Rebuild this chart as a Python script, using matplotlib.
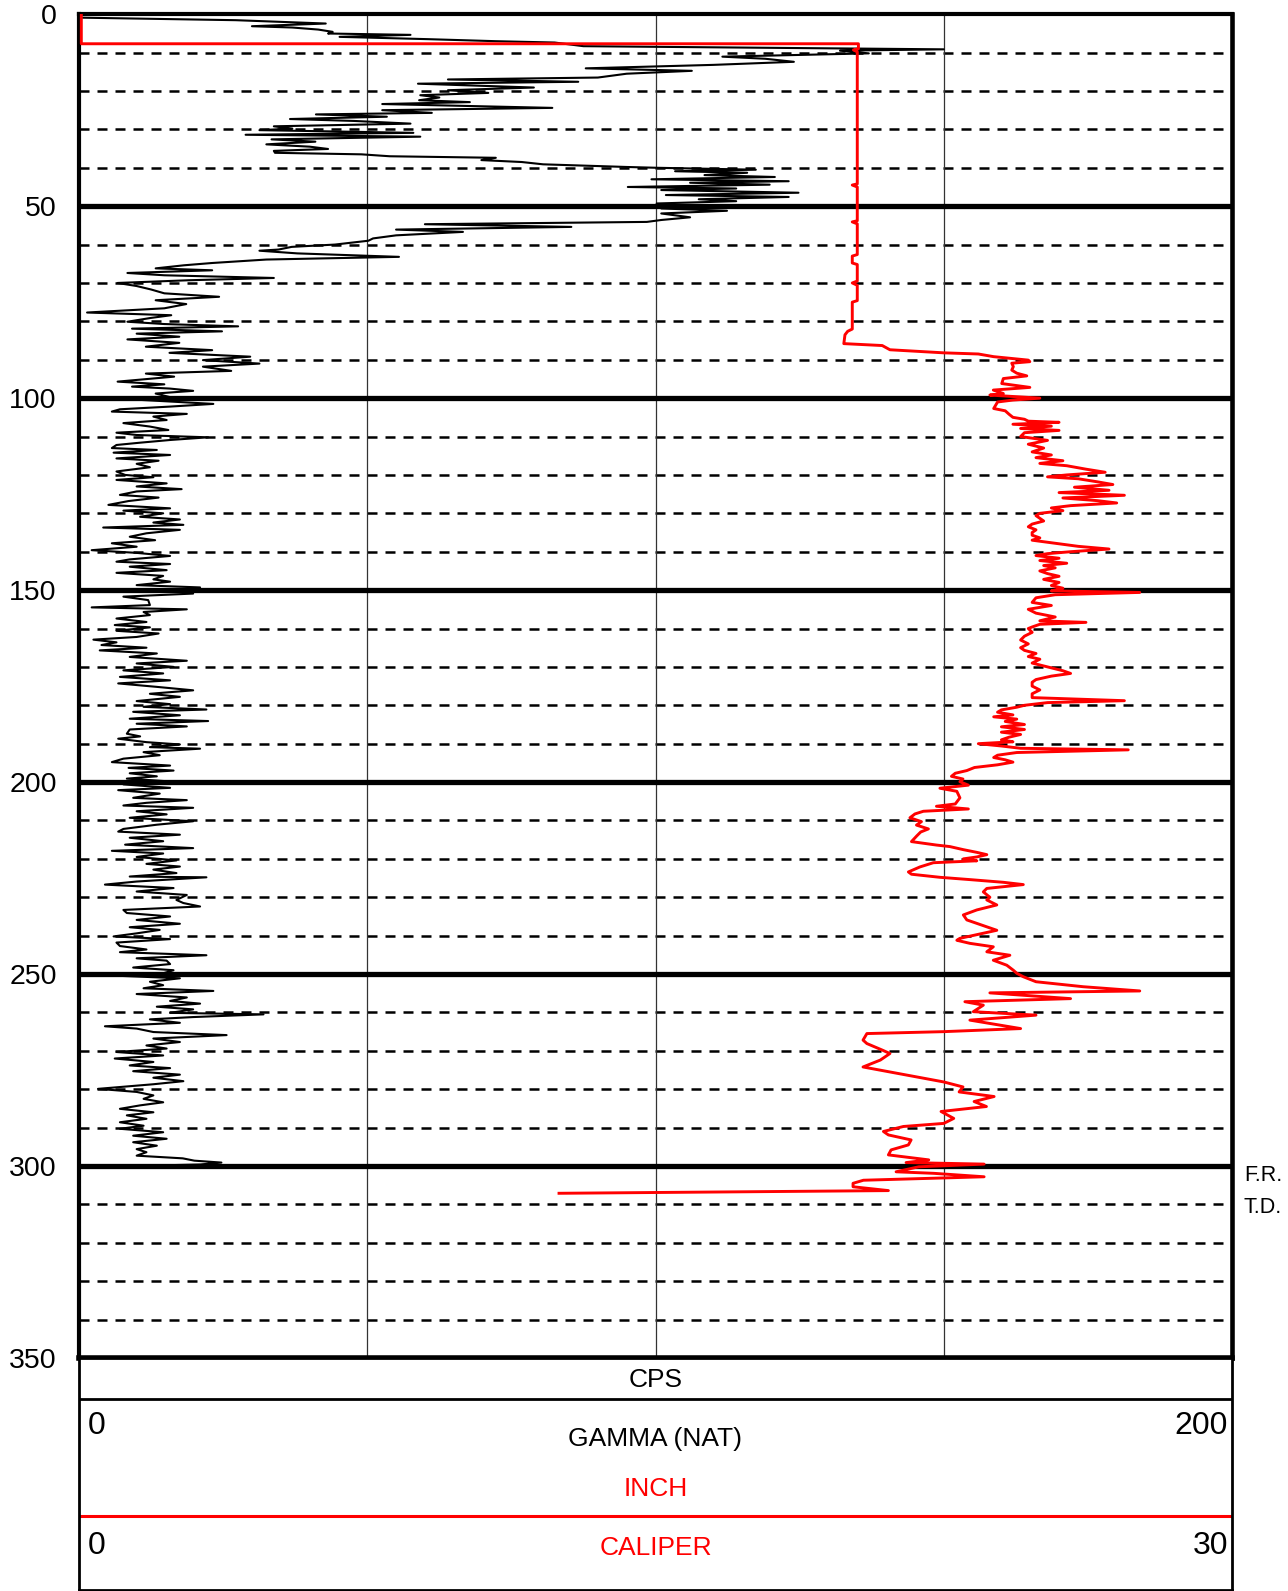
import numpy as np
import matplotlib
matplotlib.use("Agg")
import matplotlib.pyplot as plt
import matplotlib.transforms as mtrans

plt.rcParams['font.family'] = ['Liberation Sans', 'DejaVu Sans']

# gamma (nat), cps  -- depth (ft) / value pairs
gam_depth = [0.9, 1.56, 2.43, 3.13, 3.47, 4.0, 4.6, 5.03, 5.38, 5.9, 6.5, 7.03, 7.38, 8.33, 8.9, 9.15, 9.5, 10.2,
             11.06, 11.6, 12.4, 13.2, 14.1, 14.75, 15.5, 16.5, 17.0, 17.6, 18.1, 19.1, 19.8, 20.5, 21.1, 21.7, 22.4,
             22.9, 23.4, 24.4, 25.0, 25.7, 26.1, 26.7, 27.3, 27.8, 28.5, 29.2, 29.8, 30.2, 30.9, 31.4, 31.9, 32.6,
             33.2, 33.9, 34.5, 35.1, 35.6, 36.1, 36.5, 37.0, 37.4, 38.0, 38.5, 39.1, 39.8, 40.0, 40.5, 40.9, 41.3,
             41.9, 42.4, 43.0, 43.5, 43.9, 44.4, 45.0, 45.4, 45.8, 46.5, 47.1, 47.6, 48.2, 48.7, 49.3, 50.0, 50.6,
             51.2, 51.9, 52.9, 53.6, 54.1, 54.7, 55.4, 56.1, 56.7, 57.6, 58.4, 59.0, 60.0, 60.6, 61.3, 61.6, 62.3,
             63.2, 63.9, 64.8, 65.4, 66.2, 66.7, 67.4, 68.0, 68.7, 69.3, 70.0, 70.8, 71.7, 72.7, 73.6, 74.5, 75.5,
             76.6, 77.7, 78.4, 79.1, 80.1, 80.7, 81.3, 81.9, 82.6, 83.2, 84.0, 84.7, 85.6, 86.6, 87.5, 88.2, 89.2,
             90.1, 91.0, 91.8, 92.9, 93.6, 94.4, 95.7, 96.4, 97.0, 97.5, 98.1, 98.8, 99.7,
             100.4, 101.5, 102.2, 102.9, 103.5, 104.1, 104.8, 105.7, 106.5, 107.4, 108.3, 109.0, 109.6, 110.2,
             110.9, 111.6, 112.2, 113.0, 113.5, 114.2, 114.8, 115.7, 116.3, 117.1, 118.0, 119.1, 120.0, 120.6,
             121.3, 122.2, 123.0, 123.7, 124.3, 125.2, 125.9, 126.8, 127.8, 128.7, 129.3, 130.0, 130.9, 131.6,
             132.4, 133.0, 133.7, 134.3, 135.2, 136.1, 137.0, 137.8, 138.7, 139.6, 140.3, 141.1, 142.0, 142.6,
             143.2, 143.9, 144.8, 145.5, 146.3, 147.2, 147.8, 148.7, 149.3, 150.0, 150.9, 151.7, 152.6, 153.9,
             154.5, 155.0, 155.7, 156.5, 157.4, 158.3, 159.1, 159.7, 160.6, 161.3, 162.2, 162.9, 163.6, 164.3,
             165.0, 165.7, 166.5, 167.4, 168.4, 169.1, 170.0, 170.9, 171.7, 172.6, 173.5, 174.3, 175.2, 176.1,
             177.0, 177.8, 178.9, 179.7, 180.4, 181.1, 181.7, 182.6, 183.5, 184.1, 184.8, 185.5, 186.3, 187.4,
             188.1, 188.7, 189.6, 190.2, 190.9, 191.3, 192.2, 193.0, 193.9, 194.8, 195.7, 196.3, 197.0, 197.7,
             198.5, 199.1, 200.0,
             200.6, 201.5, 202.1, 203.0, 204.1, 204.7, 205.4, 206.1, 206.7, 207.6, 208.4, 209.3, 210.2, 211.1,
             212.2, 212.9, 213.7, 214.5, 215.4, 216.3, 217.2, 217.9, 218.6, 219.5, 220.4, 221.3, 222.0, 222.8,
             223.7, 224.6, 224.8, 225.9, 226.7, 227.6, 228.5, 229.4, 230.7, 231.5, 232.4, 233.3, 234.1, 235.0,
             235.9, 236.9, 237.8, 238.5, 239.4, 240.2, 240.9, 241.8, 242.7, 243.6, 244.3, 245.1, 245.9, 246.5,
             247.4, 248.3, 249.0, 249.8, 250.5, 251.1, 252.0, 252.9, 253.7, 254.4, 255.2, 256.1, 257.0, 257.7,
             258.5, 259.2, 260.1, 260.5, 261.2, 261.8, 262.7, 263.6, 264.2, 265.1, 265.9, 266.8, 267.7, 268.6,
             269.4, 270.3, 271.2, 272.0, 272.9, 273.8, 274.5, 275.3, 276.2, 277.0, 277.9, 278.7, 279.9, 280.7,
             281.6, 282.5, 283.4, 284.2, 285.1, 286.0, 286.8, 287.7, 288.6, 289.5, 290.3, 291.2, 292.1, 292.9,
             293.8, 294.7, 295.6, 296.4, 297.3, 298.0, 298.6, 299.1, 299.6, 300.3]
gam_cps = [0.3, 27.2, 42.8, 30.0, 37.0, 41.5, 44.0, 43.2, 57.5, 45.2, 60.5, 72.3, 82.5, 87.5, 131, 150, 132, 137,
           111.6, 119, 124, 110, 87.9, 106.3, 95, 90, 64, 86.6, 58.8, 78.9, 64, 71, 59.2, 62.5, 59,
           67.8, 52.6, 82.1, 52.6, 61.2, 41.1, 53.4, 36.6, 47.7, 57.5, 33.8, 37, 31.3, 58, 28.9, 59.2, 33.4,
           41, 32.5, 40, 43.2, 33.8, 34, 49, 53.9, 72.3, 69.8, 76.8, 80.5, 95.2, 100.2, 117.4, 103.4, 115.9,
           108.5, 120.7, 99.3, 123.1, 106, 119.8, 95.2, 114, 101, 124.8, 101.8, 123.1, 107.5, 114, 100.2, 105, 101,
           112.4, 101, 106, 101, 98.5, 60, 85.4, 55, 66.6, 55, 51, 50.2, 44.4, 36.9, 34.6, 31.3, 37.9,
           55.5, 32.5, 23.1, 18.2, 13.3, 23.1, 8.4, 14.8, 33.8, 18.9, 6.7, 10, 12.5, 14.8, 24.3, 13.3, 18.6,
           14.8, 1.4, 16, 12.5, 8.4, 14.8, 27.6, 9.2, 24.8, 10, 17.4, 8.4, 17.4, 11.6, 23.1, 15.7, 29.7,
           21.5, 31.3, 21.5, 26.4, 11.6, 16.5, 6.7, 14.8, 9.2, 15.7, 19.8, 13.3, 15.7,
           10.0, 23.3, 15.8, 7.1, 5.7, 18.7, 12.9, 15.2, 7.7, 12.3, 15.5, 6.5, 10.0, 22.4,
           15.8, 10.6, 6.5, 5.7, 13.5, 6.0, 15.8, 6.5, 13.8, 10.0, 12.3, 6.5, 8.0, 12.9,
           6.5, 15.2, 10.0, 17.8, 10.0, 7.1, 13.8, 8.6, 5.1, 15.8, 7.7, 14.6, 10.6, 17.5,
           12.9, 18.1, 4.2, 17.5, 11.7, 8.8, 13.2, 5.7, 10.0, 2.2, 10.0, 15.8, 8.8, 6.5,
           15.8, 8.8, 15.2, 6.5, 14.6, 12.9, 15.8, 10.0, 21.0, 18.7, 19.8, 7.7, 12.0, 12.3,
           2.2, 18.7, 11.2, 12.3, 6.5, 11.7, 6.2, 12.3, 6.5, 13.8, 10.0, 2.5, 6.5, 3.9,
           11.7, 3.6, 13.5, 8.8, 18.7, 10.0, 16.4, 7.7, 14.6, 7.1, 15.8, 6.8, 13.5, 19.8,
           12.3, 17.5, 10.0, 15.8, 11.2, 22.1, 9.4, 17.5, 8.8, 22.4, 10.0, 18.7, 8.8, 8.3,
           10.6, 6.8, 11.7, 17.5, 12.3, 21.0, 11.2, 14.0, 7.7, 5.7, 15.8, 8.6, 16.4, 8.8,
           13.5, 8.3, 17.5,
           7.7, 15.8, 6.8, 14.0, 9.4, 18.7, 11.7, 7.7, 19.8, 10.0, 15.2, 8.8, 19.8, 13.5,
           7.7, 6.8, 17.5, 8.8, 14.6, 8.0, 19.8, 5.7, 14.6, 10.0, 16.9, 11.7, 17.5, 12.9,
           16.9, 8.8, 22.1, 10.0, 4.5, 16.4, 10.0, 18.7, 16.9, 18.1, 21.0, 7.7, 8.3, 15.8,
           10.0, 17.5, 8.8, 14.0, 10.0, 6.0, 15.8, 6.5, 7.1, 11.7, 7.1, 22.1, 10.0, 15.2,
           15.8, 9.4, 16.4, 14.6, 7.7, 17.5, 12.3, 14.6, 11.2, 23.3, 10.0, 18.7, 15.8, 21.0,
           13.5, 19.8, 15.8, 32.0, 19.8, 12.3, 17.5, 4.5, 10.0, 12.9, 25.6, 12.9, 17.5, 11.7,
           15.2, 6.5, 14.6, 6.2, 12.9, 8.8, 15.8, 9.4, 17.5, 12.9, 18.1, 12.9, 3.3, 10.0,
           12.9, 11.2, 14.6, 10.6, 7.1, 12.9, 8.3, 11.7, 7.1, 11.2, 7.1, 14.6, 9.4, 15.2,
           9.4, 13.5, 10.0, 11.7, 10.0, 18.0, 20.0, 24.7, 21.0, 0.0]

# caliper, inch
cal_depth = [0, 7.7, 7.7, 9.0, 9.3, 9.8, 44.2, 44.5, 45.0, 53.8, 54.1, 54.6, 62.6, 63.0, 64.8, 65.2, 69.5, 70.0,
             70.6, 74.6, 75.0, 82.0, 82.6, 83.5, 85.8, 86.3, 87.4, 88.2, 88.5, 89.2, 90.1,
             90.5, 90.9, 91.8, 92.7, 93.5, 94.2, 94.9, 96.2, 97.2, 97.9, 98.8, 99.2,
             100.0, 100.5, 101.0, 102.7, 103.3, 104.2, 105.0, 105.5, 106.0, 106.3, 106.8, 107.3, 107.9, 108.4,
             109.0, 110.0, 111.0, 112.0, 113.0, 114.0, 114.8, 115.5, 116.3, 117.0, 117.6, 118.5, 119.3, 120.0,
             120.5, 121.0, 121.8, 122.5, 123.2, 124.0, 124.6, 125.3, 126.0, 126.7, 127.3, 128.0, 128.6, 129.3,
             130.0, 130.6, 131.3, 132.0, 132.8, 133.5, 134.3, 135.0, 135.7, 136.4, 137.0, 137.8, 138.6, 139.3,
             140.0, 140.5, 141.0, 141.7, 142.3, 143.0, 143.6, 144.2, 145.0, 145.7, 146.4, 147.2, 148.0, 148.8,
             149.5, 150.2, 150.6, 151.2, 152.0, 153.2, 154.0, 155.0, 156.0, 157.0, 158.0, 158.4, 158.9, 159.6,
             160.0, 161.0, 162.0, 163.0, 164.0, 165.0, 165.7, 166.5, 167.3, 168.0, 169.0, 170.0, 171.0, 171.7,
             172.4, 173.3, 174.0, 175.0, 176.0, 177.0, 178.0, 178.8, 179.3, 180.0, 180.5, 181.2, 181.8, 182.5,
             183.0, 183.6, 184.2, 185.0, 185.6, 186.3, 187.0, 187.6, 188.3, 189.0, 189.5, 190.0, 190.6, 191.2,
             191.6, 192.3, 193.0, 193.6, 194.2, 194.8, 195.5, 196.2, 197.0, 197.7, 198.5, 199.2,
             199.9, 200.8, 201.6, 202.4, 204.1, 205.7, 206.3, 207.0, 207.6, 208.3, 209.3, 210.3, 211.2, 212.2,
             213.0, 214.0, 215.5, 216.4, 216.8, 217.6, 218.3, 218.9, 219.5, 220.0, 220.5, 221.0, 222.1, 223.4,
             224.0, 224.8, 225.4, 226.1, 226.7, 227.7, 228.6, 230.0, 230.7, 232.0, 233.3, 234.6, 235.9, 236.8,
             238.6, 240.7, 241.2, 242.0, 242.9, 244.2, 245.1, 246.4, 247.7, 249.0, 249.8,
             250.7, 252.0, 253.3, 254.4, 254.9, 256.4, 257.2, 258.1, 259.8, 260.7, 262.0, 264.2, 265.0, 265.5,
             267.2, 268.1, 269.8, 270.7, 272.4, 274.2, 276.8, 278.1, 279.4, 280.7, 281.9,
             283.2, 284.5, 285.8, 287.6, 288.9, 289.7, 291.0, 291.9, 293.2, 294.5, 295.8, 297.1, 298.4, 299.1,
             299.5, 300.2, 301.5, 301.9, 302.8, 303.7, 304.5, 305.4, 306.4, 307.1]
cal_inch = [0.06, 0.06, 20.28, 20.28, 20.15, 20.25, 20.25, 20.12, 20.25, 20.25, 20.12, 20.25, 20.25, 20.12, 20.12,
            20.25, 20.25, 20.12, 20.25, 20.25, 20.12, 20.12, 20.0, 19.93, 19.9, 20.9, 21.1, 22.5, 23.4, 23.8, 24.7,
            24.74, 24.27, 24.31, 24.27, 24.40, 24.66, 24.05, 24.01, 24.74, 23.79, 24.05, 23.70,
            25.0, 24.3, 23.9, 23.8, 24.1, 24.2, 24.3, 24.6, 24.7, 25.5, 24.3, 25.3, 24.5, 25.5,
            24.6, 24.5, 25.2, 24.7, 25.1, 24.8, 25.3, 24.9, 25.6, 25.0, 25.7, 26.2, 26.7, 25.7,
            25.2, 26.0, 26.5, 26.9, 25.9, 26.8, 25.5, 27.2, 25.6, 26.5, 27.0, 25.8, 25.3, 25.6,
            25.0, 24.9, 25.0, 25.1, 24.8, 24.7, 24.9, 24.8, 24.8, 25.0, 24.8, 25.4, 26.0, 26.8,
            25.8, 25.2, 24.9, 25.5, 25.0, 25.7, 25.1, 25.4, 25.0, 25.2, 25.5, 25.1, 25.5, 25.3,
            25.6, 25.3, 27.6, 25.4, 24.9, 24.8, 25.3, 24.7, 24.9, 25.4, 25.0, 26.2, 25.0, 24.8,
            24.7, 24.8, 24.6, 24.5, 24.7, 24.5, 24.6, 24.9, 24.7, 25.0, 24.8, 25.2, 25.6, 25.8,
            25.3, 24.9, 24.8, 24.8, 25.0, 24.8, 24.8, 27.2, 25.2, 24.6, 24.4, 24.0, 23.9, 24.3,
            23.8, 24.4, 24.1, 24.6, 24.0, 24.6, 24.0, 24.5, 24.2, 24.0, 24.3, 23.4, 24.0, 24.5,
            27.3, 24.4, 23.9, 23.8, 24.1, 24.3, 23.9, 23.3, 23.1, 22.8, 22.7, 23.0,
            22.92, 23.14, 22.40, 22.84, 22.92, 22.8, 22.31, 23.14, 21.97, 21.75, 21.62, 21.92, 21.79, 22.10,
            21.9, 21.8, 21.66, 22.31, 22.66, 23.01, 23.36, 23.62, 23.36, 23.01, 23.36, 22.23, 21.88, 21.58,
            21.66, 22.40, 23.18, 24.05, 24.57, 23.62, 23.53, 23.70, 23.62, 23.88, 23.36, 23.01, 23.1, 23.36,
            23.88, 22.92, 22.84, 23.18, 23.79, 23.62, 24.22, 23.79, 24.14, 24.31, 24.40,
            24.57, 24.9, 26.13, 27.6, 23.7, 25.8, 23.05, 23.53, 23.27, 24.9, 23.18, 24.5, 22.5, 20.5,
            20.4, 20.5, 20.9, 21.1, 20.85, 20.4, 21.8, 22.5, 23.0, 22.9, 23.81,
            23.29, 23.61, 22.43, 22.76, 22.5, 21.45, 20.93, 21.06, 21.65, 21.58, 21.13, 21.06, 22.11, 21.52,
            23.55, 21.85, 21.26, 22.24, 23.55, 20.41, 20.14, 20.14, 21.06, 12.49]

depth_ticks = [0, 50, 100, 150, 200, 250, 300, 350]
gamma_grid = [50, 100, 150]

W, H = 1288, 1591
fig = plt.figure(figsize=(W / 100, H / 100), dpi=100)

# main track
ax = fig.add_axes([79 / W, 1 - 1358 / H, 1153 / W, 1343.8 / H])
ax.set_xlim(0, 200)
ax.set_ylim(350, 0)
ax.set_xticks([])
ax.set_yticks(depth_ticks)
ax.tick_params(axis='y', length=0, pad=16, labelsize=20.5)

for d in range(10, 350, 10):
    if d % 50:
        ax.axhline(d, color='black', lw=1.8, ls=(0, (4.0, 3.2)), zorder=1)
for d in depth_ticks[1:-1]:
    ax.axhline(d, color='black', lw=3.8, zorder=1.5)
for g in gamma_grid:
    ax.axvline(g, color='#333333', lw=0.9, zorder=1)

ax.plot(gam_cps, gam_depth, color='black', lw=1.5, zorder=3)

for side in ['left', 'top']:
    ax.spines[side].set_linewidth(3)
ax.spines['right'].set_linewidth(3.3)
ax.spines['bottom'].set_linewidth(4)

ax2 = ax.twiny()
ax2.set_xlim(0, 30)
ax2.set_xticks([])
for s in ax2.spines.values():
    s.set_visible(False)
ax2.plot(cal_inch, cal_depth, color='#ff0000', lw=2.1, zorder=4)

tr = mtrans.blended_transform_factory(ax.transAxes, ax.transData)
ax.text(1.0104, 302.4, 'F.R.', transform=tr, fontsize=15.5, va='center', ha='left')
ax.text(1.0104, 310.9, 'T.D.', transform=tr, fontsize=15.5, va='center', ha='left')

# header panel
hp = fig.add_axes([79 / W, 1 - 1589.5 / H, 1153 / W, 231.5 / H])
hp.set_xlim(0, 1)
hp.set_ylim(0, 1)
hp.set_xticks([])
hp.set_yticks([])
for s in hp.spines.values():
    s.set_linewidth(2)
hp.axhline(0.823, color='black', lw=2)
hp.axhline(0.318, color='#ff0000', lw=2.2)
hp.text(0.5, 0.905, 'CPS', ha='center', va='center', fontsize=19)
hp.text(0.008, 0.706, '0', ha='left', va='center', fontsize=23)
hp.text(0.9965, 0.706, '200', ha='right', va='center', fontsize=23)
hp.text(0.5, 0.648, 'GAMMA (NAT)', ha='center', va='center', fontsize=19)
hp.text(0.5, 0.436, 'INCH', ha='center', va='center', fontsize=19, color='#ff0000')
hp.text(0.008, 0.186, '0', ha='left', va='center', fontsize=23)
hp.text(0.5, 0.18, 'CALIPER', ha='center', va='center', fontsize=19, color='#ff0000')
hp.text(0.9965, 0.186, '30', ha='right', va='center', fontsize=23)

fig.savefig('out.png', dpi=100)
